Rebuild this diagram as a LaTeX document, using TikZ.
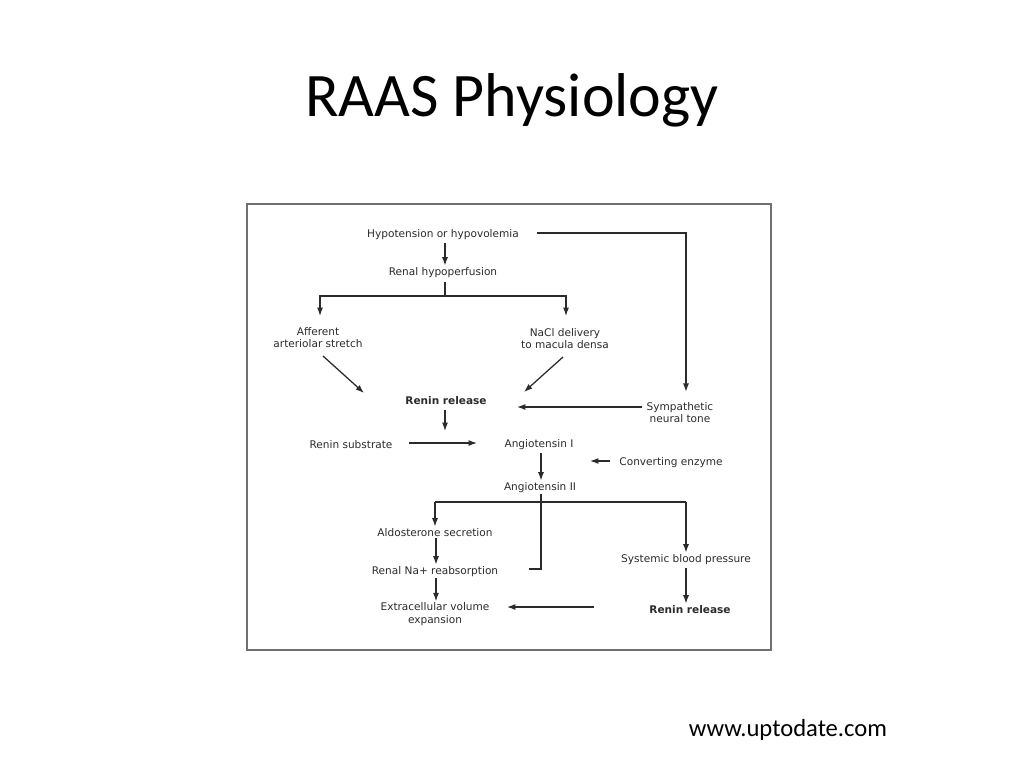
\documentclass[tikz,border=0pt]{standalone}
\usepackage{fontspec}
\setmainfont{DejaVu Sans}
\newfontfamily\slidefont{Carlito}
\usetikzlibrary{arrows.meta}
\definecolor{ink}{HTML}{2B2B2B}
\definecolor{framegray}{HTML}{707070}
\tikzset{
  lbl/.style={font=\fontsize{7.5}{9}\selectfont, text=ink, align=center, inner sep=1pt, yshift=-1pt},
  boldlbl/.style={lbl, font=\fontsize{7.5}{9}\selectfont\bfseries},
  flow/.style={draw=ink, line width=0.9pt, -{Latex[length=2.1mm,width=1.5mm]}},
  link/.style={draw=ink, line width=0.9pt}
}
\begin{document}
\begin{tikzpicture}[x=0.025cm,y=-0.025cm]
    \useasboundingbox (0,0) rectangle (1024,768);
    \path (512,100) node[font=\slidefont\fontsize{44}{50}\selectfont] (title) {RAAS Physiology};
    \path (788,730) node[font=\slidefont\fontsize{17.5}{20}\selectfont] (src) {www.uptodate.com};
    \draw [framegray, line width=1.1pt] (247,204) rectangle (771,650);
    \path (443,233) node[lbl] (hypo) {Hypotension or hypovolemia};
    \path (443,271) node[lbl] (renal) {Renal hypoperfusion};
    \path (318,336) node[lbl] (aff) {Afferent\\arteriolar stretch};
    \path (565,337) node[lbl] (nacl) {NaCl delivery\\to macula densa};
    \path (446,399) node[boldlbl] (renin) {Renin release};
    \path (680,411) node[lbl] (symp) {Sympathetic\\neural tone};
    \path (351,443) node[lbl] (subs) {Renin substrate};
    \path (539,443) node[lbl] (ang1) {Angiotensin I};
    \path (671,461) node[lbl] (enz) {Converting enzyme};
    \path (540,486) node[lbl] (ang2) {Angiotensin II};
    \path (435,531) node[lbl] (aldo) {Aldosterone secretion};
    \path (435,570) node[lbl] (na) {Renal Na+ reabsorption};
    \path (435,613) node[lbl] (ecv) {Extracellular volume\\expansion};
    \path (686,558) node[lbl] (sbp) {Systemic blood pressure};
    \path (690,608) node[boldlbl] (renin2) {Renin release};
    \path (445,296) coordinate (split1);
    \path (445,431) coordinate (cleave);
    \path (541,569) coordinate (loopend);
    \path (529,569) coordinate (stub);
    \path (541,502) coordinate (split2);
    \draw [flow] (hypo.south -| split1) ++(0,2) -- (renal.north -| split1);
    \draw [flow] (537,233) -| ([yshift=6pt]symp.north -| 686,0);
    \draw [link] (renal.south -| split1) ++(0,3) -- (split1);
    \draw [flow] (split1) -| (320,316);
    \draw [flow] (split1) -| (566,316);
    \draw [flow] (323,356) -- (364,393);
    \draw [flow] (563,357) -- (524,392);
    \draw [flow] (symp.west |- 0,407) ++(-3,0) -- (517,407);
    \draw [flow] (renin.south -| split1) ++(0,4) -- (cleave);
    \draw [flow] (409,443) -- (477,443);
    \draw [flow] (ang1.south -| loopend) ++(0,2) -- (ang2.north -| loopend);
    \draw [flow] (610,461) -- (590,461);
    \draw [link] (ang2.south -| loopend) -- (loopend) -- (stub);
    \draw [link] (435,502) -- (686,502);
    \draw [flow] (435,502) -- (aldo.north -| 435,0);
    \draw [flow] (686,502) -- (sbp.north -| 686,0);
    \draw [flow] (aldo.south -| 436,0) -- (na.north -| 436,0);
    \draw [flow] (na.south -| 436,0) -- (ecv.north -| 436,0);
    \draw [flow] (594,607) -- (507,607);
    \draw [flow] (sbp.south -| 686,0) ++(0,2) -- (renin2.north -| 686,0);
\end{tikzpicture}
\end{document}
